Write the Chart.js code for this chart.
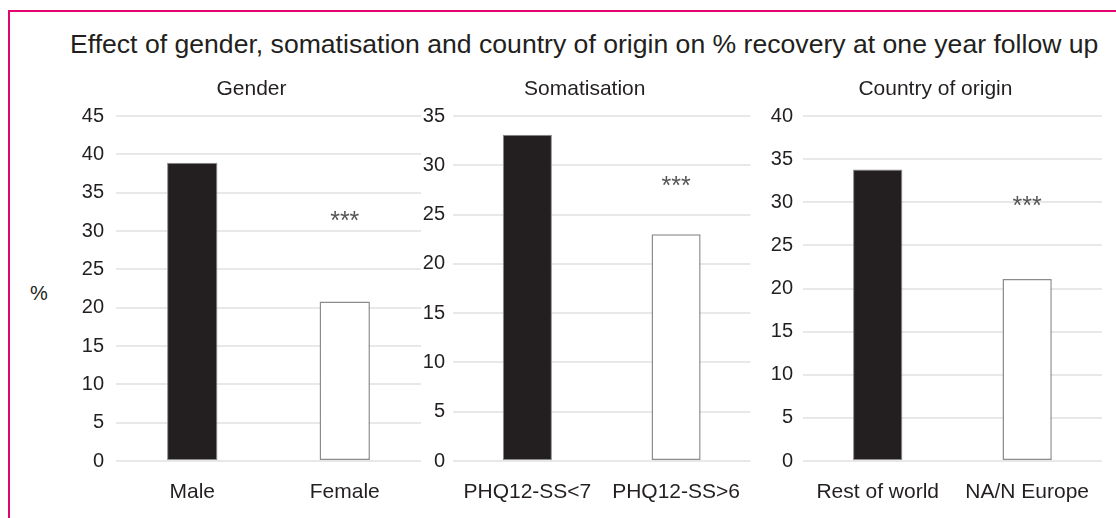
<!DOCTYPE html>
<html>
<head>
<meta charset="utf-8">
<script src="https://cdn.jsdelivr.net/npm/chart.js@4.4.0/dist/chart.umd.min.js"></script>
<style>
  body { margin: 0; background: #fff; font-family: "Liberation Sans", Arial, sans-serif; color: #231f20; }
  #wrap { position: relative; width: 1116px; height: 518px; overflow: hidden; }
  #frame { position: absolute; left: 8px; top: 10px; width: 1200px; height: 600px; border-top: 2px solid #e2066f; border-left: 2px solid #e2066f; }
  .txt { position: absolute; white-space: nowrap; line-height: 1; }
  canvas { position: absolute; top: 0; }
</style>
</head>
<body>
<div id="wrap">
  <div id="frame"></div>
  <div class="txt" id="title" style="left:70px; top:31px; font-size:26.6px;">Effect of gender, somatisation and country of origin on % recovery at one year follow up</div>
  <div class="txt" id="yTitle" style="left:30px; top:283px; font-size:20px;">%</div>
  <canvas id="c0" width="401" height="518" style="left:20px"></canvas>
  <canvas id="c1" width="338" height="518" style="left:421px"></canvas>
  <canvas id="c2" width="348" height="518" style="left:760px"></canvas>
</div>
<script>
// Data
const panelTitles = ['Gender', 'Somatisation', 'Country of origin'];
const genderLabels = ['Male', 'Female'];
const genderValues = [38.9, 20.8];
const somatLabels = ['PHQ12-SS<7', 'PHQ12-SS>6'];
const somatValues = [33.1, 23.0];
const countryLabels = ['Rest of world', 'NA/N Europe'];
const countryValues = [33.8, 21.1];
const axisMax = [45, 35, 40];
const tickStep = 5;
// y value where the *** significance mark sits (over the second bar)
const sigMarkY = [31.8, 28.3, 30.0];

const ink = '#231f20';
const barFill = ['#231f20', '#ffffff'];
const barEdge = ['#8a8a8a', '#8c8c8c'];
const fontFamily = '"Liberation Sans", Arial, sans-serif';

// canvas left offset -> y axis width so plot areas line up with the picture
const panels = [
    { id: 'c0', labels: genderLabels, values: genderValues, left: 20, plotLeft: 116, tickGap: 12 },
    { id: 'c1', labels: somatLabels, values: somatValues, left: 421, plotLeft: 453, tickGap: 8 },
    { id: 'c2', labels: countryLabels, values: countryValues, left: 760, plotLeft: 803, tickGap: 10 }
];

const sigPlugin = {
    id: 'sigMark',
    afterDatasetsDraw(chart, args, opts) {
        const ctx = chart.ctx;
        const x = chart.scales.x.getPixelForValue(1);
        const y = chart.scales.y.getPixelForValue(opts.value);
        ctx.save();
        ctx.fillStyle = '#555';
        ctx.font = '25px ' + fontFamily;
        ctx.textAlign = 'center';
        ctx.textBaseline = 'middle';
        ctx.fillText('***', x, y + 5);
        ctx.restore();
    }
};

// panel heading, centred over the whole panel (axis labels included)
const subtitlePlugin = {
    id: 'panelTitle',
    afterDraw(chart, args, opts) {
        const ctx = chart.ctx;
        const area = chart.chartArea;
        ctx.save();
        ctx.fillStyle = ink;
        ctx.font = '21px ' + fontFamily;
        ctx.textAlign = 'center';
        ctx.textBaseline = 'middle';
        ctx.fillText(opts.text, (area.left + area.right) / 2 - 17, 89);
        ctx.restore();
    }
};

panels.forEach((p, i) => {
    new Chart(document.getElementById(p.id), {
        type: 'bar',
        data: {
            labels: p.labels,
            datasets: [{
                data: p.values,
                backgroundColor: barFill,
                borderColor: barEdge,
                borderWidth: [1, 1.5],
                borderSkipped: false,
                categoryPercentage: 1,
                barPercentage: 0.33
            }]
        },
        options: {
            responsive: false,
            animation: false,
            devicePixelRatio: 1,
            layout: { padding: { top: 116, left: 0, right: 0, bottom: 0 } },
            plugins: {
                legend: { display: false },
                tooltip: { enabled: false },
                sigMark: { value: sigMarkY[i] },
                panelTitle: { text: panelTitles[i] }
            },
            scales: {
                x: {
                    grid: { display: false, drawTicks: false },
                    border: { display: false },
                    ticks: { color: ink, padding: 19, font: { size: 21, family: fontFamily } },
                    afterFit: s => { s.height = 57; }
                },
                y: {
                    min: 0,
                    max: axisMax[i],
                    grid: { color: '#e8e8e8', lineWidth: 2, drawTicks: false },
                    border: { display: false },
                    ticks: { stepSize: tickStep, color: ink, padding: p.tickGap, font: { size: 20, family: fontFamily } },
                    afterFit: s => { s.width = p.plotLeft - p.left; }
                }
            }
        },
        plugins: [sigPlugin, subtitlePlugin]
    });
});
</script>
</body>
</html>
